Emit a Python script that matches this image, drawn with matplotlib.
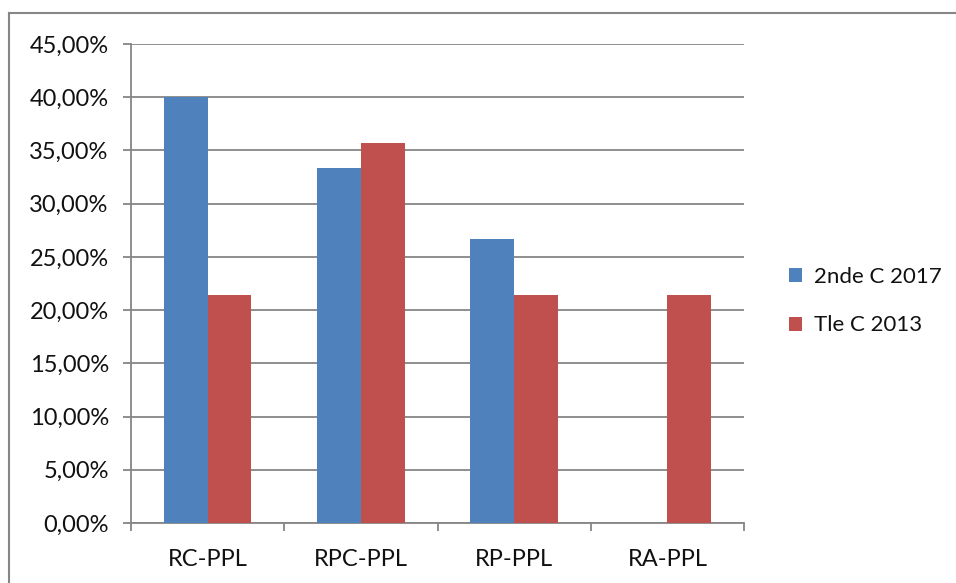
import numpy as np
import matplotlib.pyplot as plt
from matplotlib.lines import Line2D
from matplotlib.ticker import FuncFormatter

# donnees
categories = ['RC-PPL', 'RPC-PPL', 'RP-PPL', 'RA-PPL']
serie_2017 = [40.00, 33.33, 26.67, 0.0]
serie_2013 = [21.43, 35.71, 21.43, 21.43]
noms = ['2nde C 2017', 'Tle C 2013']
couleurs = ['#4F81BD', '#C0504D']

plt.rcParams['font.family'] = ['Lato', 'DejaVu Sans']

fig = plt.figure(figsize=(9.56, 5.83), dpi=100)
ax = fig.add_axes([131/956, 1-523/583, (744-131)/956, (523-44)/583])

x = np.arange(len(categories))
larg = 1/3.5
ax.bar(x - larg/2, serie_2017, larg, color=couleurs[0], label=noms[0], zorder=3)
ax.bar(x + larg/2, serie_2013, larg, color=couleurs[1], label=noms[1], zorder=3)

ax.set_xlim(-0.5, len(categories)-0.5)
ax.set_ylim(0, 45)
ax.set_yticks(np.arange(0, 46, 5))
ax.yaxis.set_major_formatter(FuncFormatter(lambda v, p: ('%.2f%%' % v).replace('.', ',')))
ax.set_xticks(x)
ax.set_xticklabels(categories)
ax.set_xticks(np.arange(-0.5, len(categories), 1), minor=True)
ax.tick_params(axis='x', which='major', length=0, pad=19, labelsize=17, labelcolor='#111111')
ax.tick_params(axis='x', which='minor', length=6, width=1.3, color='#868686')
ax.tick_params(axis='y', length=6, width=1.3, color='#868686', pad=10, labelsize=17,
               labelcolor='#111111')
ax.grid(axis='y', color='#868686', linewidth=1.3, zorder=0)
for s in ['top', 'right']:
    ax.spines[s].set_visible(False)
for s in ['left', 'bottom']:
    ax.spines[s].set_color('#868686')
    ax.spines[s].set_linewidth(1.3)

leg = fig.legend(loc='center left', bbox_to_anchor=(782/956, 1-301/583), frameon=False,
                 fontsize=16, handlelength=0.6, handleheight=0.6, handletextpad=0.55,
                 labelspacing=1.3, borderaxespad=0, borderpad=0.3)
for t in leg.get_texts():
    t.set_color('#111111')

# cadre exterieur (haut et gauche seulement)
fig.add_artist(Line2D([9/956, 1], [1-13/583, 1-13/583], transform=fig.transFigure,
                      color='#868686', linewidth=1.5))
fig.add_artist(Line2D([9/956, 9/956], [0, 1-13/583], transform=fig.transFigure,
                      color='#868686', linewidth=1.5))

fig.savefig('out.png', dpi=100)
